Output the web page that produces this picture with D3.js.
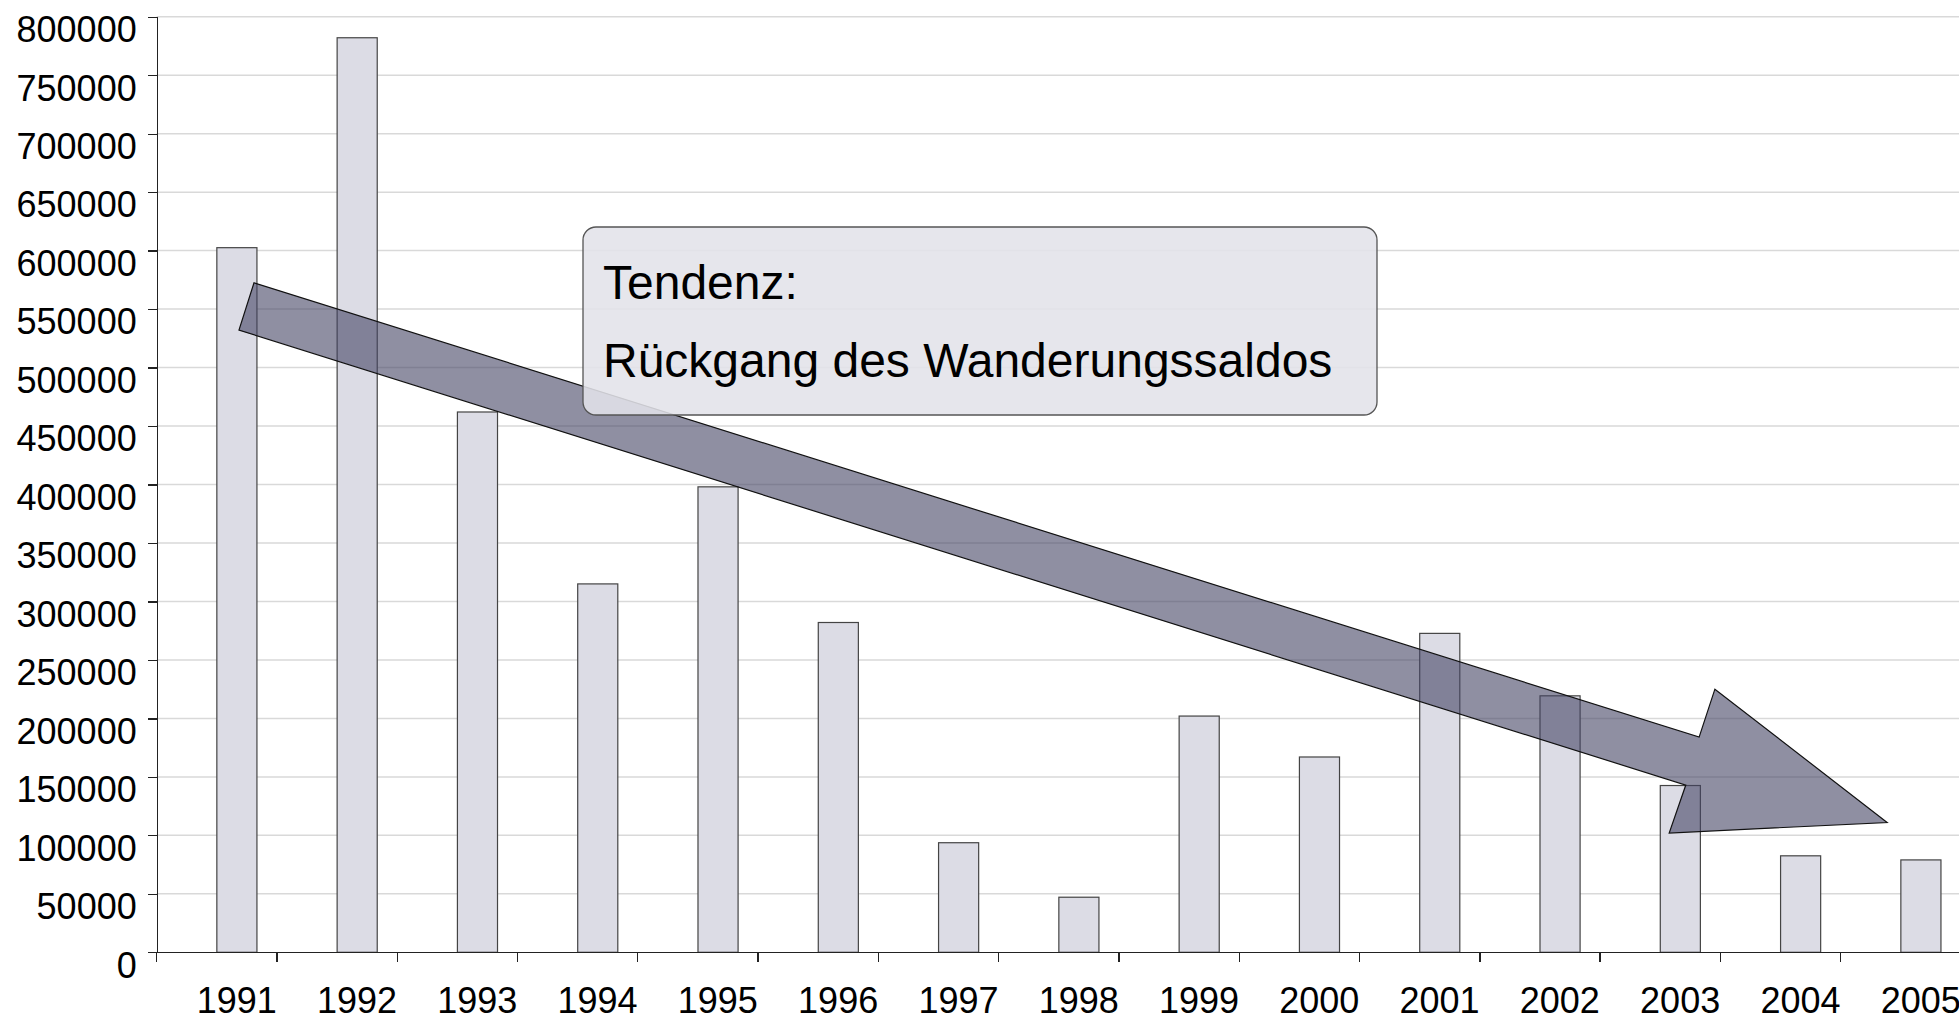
<!DOCTYPE html>
<meta charset="utf-8">
<style>
    body { margin: 0; background: #fff; }
    svg { display: block; }
    .axis text { font-family: "Liberation Sans", Arial, sans-serif; font-size: 36px; fill: #000; }
    .axis path, .axis line { stroke: #222; stroke-width: 1.3; shape-rendering: crispEdges; }
    .grid line { stroke: #d9d9d9; stroke-width: 1.5; }
    .note text { font-family: "Liberation Sans", Arial, sans-serif; font-size: 48px; fill: #000; }
</style>
<body>
<div id="plotarea"></div>
<script src="https://cdn.jsdelivr.net/npm/d3@7/dist/d3.min.js"></script>
<script>

    // Wanderungssaldo je Jahr
    var years = ["1991", "1992", "1993", "1994", "1995", "1996", "1997", "1998",
                 "1999", "2000", "2001", "2002", "2003", "2004", "2005"];
    var saldo = [602500, 782000, 462000, 315000, 398000, 282000, 93700, 47100,
                 202000, 167000, 272700, 219300, 142600, 82500, 79000];
    var yTicks = [0, 50000, 100000, 150000, 200000, 250000, 300000, 350000,
                  400000, 450000, 500000, 550000, 600000, 650000, 700000, 750000, 800000];

    // Tendenz-Pfeil (Position in Kategorien, Wert)
    var arrowPos = [0.809, 12.823, 12.954, 14.386, 12.574, 12.712, 0.684];
    var arrowVal = [572500, 184000, 225000, 111000, 102000, 143000, 532000];

    var noteLines = ["Tendenz:", "Rückgang des Wanderungssaldos"];

    var W = 1959, H = 1020;
    var plotLeft = 156.7, plotRight = 1961, plotTop = 16.7, plotBottom = 952.3;

    var svg = d3.select("#plotarea").append("svg")
            .attr("width", W)
            .attr("height", H);

    var x = d3.scaleBand().domain(years).range([plotLeft, plotRight]).padding(0);
    var xPos = d3.scaleLinear().domain([0, years.length]).range([plotLeft, plotRight]);
    var y = d3.scaleLinear().domain([0, 800000]).range([plotBottom, plotTop]);
    var bw = x.bandwidth();

    // gridlines
    svg.append("g").attr("class", "grid")
        .selectAll("line")
        .data(yTicks.filter(function(d) { return d > 0; }))
        .enter().append("line")
        .attr("x1", plotLeft).attr("x2", W)
        .attr("y1", function(d) { return y(d); })
        .attr("y2", function(d) { return y(d); });

    // bars
    svg.append("g").selectAll("rect")
        .data(saldo)
        .enter().append("rect")
        .attr("x", function(d, i) { return x(years[i]) + bw * 0.5; })
        .attr("width", bw / 3)
        .attr("y", function(d) { return y(d); })
        .attr("height", function(d) { return y(0) - y(d); })
        .attr("fill", "#dcdce5")
        .attr("stroke", "#444")
        .attr("stroke-width", 1.2);

    // y axis
    var yAxis = svg.append("g").attr("class", "axis")
        .attr("transform", "translate(" + plotLeft + ",0)")
        .call(d3.axisLeft(y).tickValues(yTicks).tickSize(9).tickSizeOuter(0).tickPadding(11)
              .tickFormat(d3.format("d")));
    yAxis.selectAll("text").attr("dy", "0.69em");

    // x axis
    var xAxis = svg.append("g").attr("class", "axis")
        .attr("transform", "translate(0," + plotBottom + ")")
        .call(d3.axisBottom(x).tickSize(10).tickSizeOuter(0).tickPadding(25));
    xAxis.selectAll(".tick line").attr("x1", -bw / 2).attr("x2", -bw / 2);
    xAxis.selectAll(".tick text").attr("x", bw * 0.165);

    // arrow
    var arrowPts = arrowPos.map(function(p, i) { return [xPos(p), y(arrowVal[i])]; });
    svg.append("path")
        .attr("d", "M" + arrowPts.join("L") + "Z")
        .attr("fill", "rgb(68,68,100)")
        .attr("fill-opacity", 0.6)
        .attr("stroke", "#111")
        .attr("stroke-width", 1.2);

    // note box
    var note = svg.append("g").attr("class", "note");
    note.append("rect")
        .attr("x", 583).attr("y", 227)
        .attr("width", 794).attr("height", 188)
        .attr("rx", 13)
        .attr("fill", "#e2e2e9")
        .attr("fill-opacity", 0.88)
        .attr("stroke", "#555")
        .attr("stroke-width", 1.3);
    note.selectAll("text")
        .data(noteLines)
        .enter().append("text")
        .attr("x", 603)
        .attr("y", function(d, i) { return 299 + i * 78; })
        .text(function(d) { return d; });

</script>
